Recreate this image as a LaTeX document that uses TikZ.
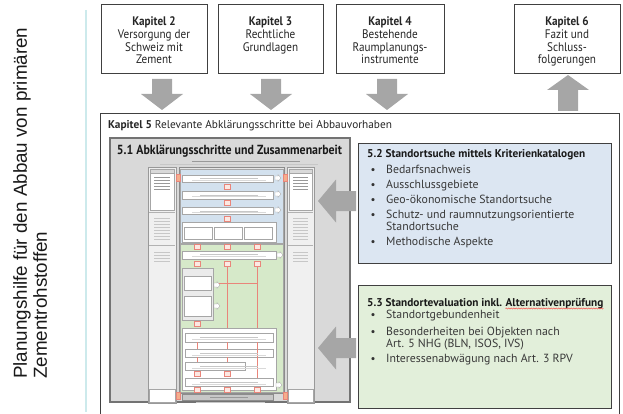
\documentclass[tikz,border=0pt]{standalone}
\usepackage{fontspec}
\setmainfont{PT Sans}
\newfontfamily\dinf[FakeStretch=0.9]{PT Sans}
\newfontfamily\arialf{Liberation Sans}
\usetikzlibrary{decorations.pathmorphing}
\definecolor{agray}{HTML}{A6A6A6}
\definecolor{bdr}{HTML}{404040}
\definecolor{bluef}{HTML}{DCE6F2}
\definecolor{greenf}{HTML}{E2EFDA}
\definecolor{tblue}{HTML}{D3E1EE}
\definecolor{tgreen}{HTML}{D6E9C9}
\definecolor{panel}{HTML}{D9D9D9}
\definecolor{tline}{HTML}{CDEAEC}
\definecolor{tred}{HTML}{E9857A}
\definecolor{tpink}{HTML}{FCE8E2}
\definecolor{torange}{HTML}{F5AE8C}
\tikzset{
  topbox/.style={draw=bdr, line width=0.8pt, fill=white, inner sep=0pt},
  toptext/.style={font=\dinf\fontsize{12.4}{12.7}\selectfont, align=center, anchor=north, inner sep=0pt, text=black!85},
  catbox/.style={draw=bdr, line width=0.8pt, inner sep=0pt},
  bul/.style={font=\fontsize{11.8}{12}\selectfont, anchor=base west, inner sep=0pt, text=black!78},
  bdot/.style={font=\fontsize{11}{12}\selectfont, anchor=base, inner sep=0pt, text=black!80},
  ttl/.style={font=\bfseries\fontsize{11.3}{12}\selectfont, anchor=base west, inner sep=0pt, text=black!90},
  tbox/.style={draw=black!35, line width=0.3pt, fill=white},
  tcol/.style={draw=black!40, line width=0.4pt, fill=black!6},
  redbox/.style={draw=tred, line width=0.3pt, fill=tpink},
  redl/.style={draw=tred, line width=0.35pt},
  txl/.style={draw=black!40, line width=0.45pt},
  fxl/.style={draw=black!22, line width=0.3pt},
}
\newcommand\blkdown[3]{\fill[agray] (#1-10,#2) -- (#1+10,#2) -- (#1+10,#2+15) -- (#1+21,#2+15) -- (#1,#3) -- (#1-21,#2+15) -- (#1-10,#2+15) -- cycle;}
\newcommand\blkup[3]{\fill[agray] (#1-10,#2) -- (#1+10,#2) -- (#1+10,#3+15) -- (#1+21,#3+15) -- (#1,#3) -- (#1-21,#3+15) -- (#1-10,#3+15) -- cycle;}
\newcommand\blkleft[3]{\fill[agray] (#1,#3) -- (#1+18,#3-21.5) -- (#1+18,#3-10) -- (#2,#3-10) -- (#2,#3+10) -- (#1+18,#3+10) -- (#1+18,#3+21.5) -- cycle;}
\newcommand\tinyarr[2]{\draw[black!35, line width=0.3pt, fill=white] (#1,#2-2) -- (#1+3,#2-2) -- (#1+3,#2-3.5) -- (#1+6,#2) -- (#1+3,#2+3.5) -- (#1+3,#2+2) -- (#1,#2+2) -- cycle;}
\begin{document}
\begin{tikzpicture}[x=1pt,y=-1pt]
\useasboundingbox (0,0) rectangle (623,414);
% left title
\node[rotate=90, anchor=north west, inner sep=0pt, align=left, text=black!90,
  font=\arialf\fontsize{18.8}{20}\selectfont] (title) at (13,379)
  {Planungshilfe für den Abbau von primären\\Zementrohstoffen};
\draw[tline, line width=1.6pt] (86,10) -- (86,412);
% top boxes
\node[topbox, minimum width=106pt, minimum height=69pt] (k2) at (154,38.5) {};
\node[topbox, minimum width=105pt, minimum height=69pt] (k3) at (270.5,38.5) {};
\node[topbox, minimum width=108pt, minimum height=69pt] (k4) at (390,38.5) {};
\node[topbox, minimum width=106pt, minimum height=69pt] (k6) at (567,38.5) {};
\node[toptext] (k2t) at ([yshift=-13pt]k2.north) {\textbf{Kapitel 2}\\Versorgung der\\Schweiz mit\\Zement};
\node[toptext] (k3t) at ([yshift=-13pt]k3.north) {\textbf{Kapitel 3}\\Rechtliche\\Grundlagen};
\node[toptext] (k4t) at ([yshift=-13pt]k4.north) {\textbf{Kapitel 4}\\Bestehende\\Raumplanungs-\\instrumente};
\node[toptext] (k6t) at ([yshift=-13pt]k6.north) {\textbf{Kapitel 6}\\Fazit und\\Schluss-\\folgerungen};
% Kapitel 5 frame
\draw[bdr, line width=0.8pt] (100,418) -- (100,113) -- (619,113) -- (619,418);
\node[font=\fontsize{11.3}{12}\selectfont, anchor=base west, inner sep=0pt, text=black!85] (k5t) at (108,129) {\textbf{Kapitel 5} Relevante Abklärungsschritte bei Abbauvorhaben};
% arrows top
\blkdown{162}{79}{110}
\blkdown{271}{79}{110}
\blkdown{387}{79}{110}
\blkup{568}{111}{75}
% 5.1 panel
\node[draw=black!55, line width=1.2pt, fill=panel, minimum width=240pt, minimum height=264pt, inner sep=0pt] (p51) at (230,270) {};
\node[font=\dinf\bfseries\fontsize{13.2}{14}\selectfont, anchor=base, inner sep=0pt, text=black!90] (p51t) at (229.5,155) {5.1 Abklärungsschritte und Zusammenarbeit};
% thumbnail
\draw[txl] (192,161) -- (300,161);
\draw[fxl] (160,164.5) -- (318,164.5);
\draw[tcol] (148,167) rectangle (176,403);
\draw[tcol] (287,167) rectangle (314,403);
\draw[black!45, line width=0.4pt, fill=black!10] (179,167) rectangle (284,393);
\draw[tbox] (150,169) rectangle (174,210);
\draw[tbox] (289,169) rectangle (312,210);
\draw[black!35, line width=0.3pt, fill=black!15] (150,169) rectangle (174,173) (289,169) rectangle (312,173);
\foreach \y in {177,180,183,186,189} {\draw[txl,line width=0.35pt] (154,\y) -- (170,\y); \draw[txl,line width=0.35pt] (293,\y) -- (308,\y);}
\foreach \y in {218,221,224,227,230,233,236,239} {\draw[fxl] (154,\y) -- (170,\y); \draw[fxl] (293,\y) -- (308,\y);}
\foreach \y in {252,255,258,261} {\draw[fxl] (154,\y) -- (170,\y); \draw[fxl] (293,\y) -- (308,\y);}
\draw[black!30, line width=0.3pt] (149,212) -- (175,212) (149,245) -- (175,245) (288,212) -- (313,212) (288,245) -- (313,245);
\draw[draw=black!35, line width=0.3pt, fill=tblue] (180,169) rectangle (283,243);
\draw[draw=black!35, line width=0.3pt, fill=tgreen] (180,244) rectangle (283,392);
\draw[tbox] (182,175) rectangle (273,182);
\draw[tbox] (182,191) rectangle (273,199);
\draw[tbox] (182,207) rectangle (273,214);
\draw[tbox] (182,222) rectangle (276,242);
\draw[tbox] (184,227) rectangle (212,239);
\draw[tbox] (214,227) rectangle (242,239);
\draw[tbox] (244,227) rectangle (272,239);
\foreach \y in {178,194,210} \tinyarr{275}{\y}
\foreach \y in {184,200,216} \draw[redbox] (224,\y) rectangle (230,\y+5);
\foreach \x in {197,227,257} \draw[redbox] (\x-3,244) rectangle (\x+3,249);
\draw[tbox] (182,251) rectangle (276,259);
\tinyarr{277}{255}
\foreach \x in {197,227,257} \draw[redbox] (\x-3,261) rectangle (\x+3,266);
\draw[redl] (227,266) -- (227,328) (257,266) -- (257,328) (213,283) -- (257,283);
\draw[draw=black!35, line width=0.3pt, fill=black!8] (182,268) rectangle (213,320);
\draw[tbox] (184,276) rectangle (211,290);
\draw[tbox] (184,296) rectangle (211,316);
\tinyarr{214}{285}
\tinyarr{214}{306}
\draw[redbox] (194,321) rectangle (200,326);
\draw[tbox] (182,328) rectangle (276,390);
\draw[tbox] (185,333) rectangle (273,342);
\draw[tbox] (185,349) rectangle (273,357);
\draw[tbox] (185,362) rectangle (245,370);
\draw[tbox] (185,378) rectangle (273,386);
\draw[redl] (197,342) -- (197,349) (227,342) -- (227,349) (257,342) -- (257,378) (197,357) -- (197,362) (227,357) -- (227,362);
\foreach \x in {197,227} \draw[redbox] (\x-3,371) rectangle (\x+3,376);
\tinyarr{276}{385}
\foreach \x in {197,227,257} \draw[redbox] (\x-3,387) rectangle (\x+3,392);
\draw[draw=black!45, line width=0.4pt, fill=black!22] (182,394) rectangle (273,400);
\draw[tbox] (149,389) rectangle (175,402);
\draw[tbox] (288,389) rectangle (313,402);
\foreach \p in {(178,178),(285,178),(178,396),(285,396)} \draw[draw=tred, line width=0.3pt, fill=torange] \p ++(-2,-3.5) rectangle ++(4,7);
\foreach \y in {178,195,211,254,337,353,366,382} \draw[fxl] (200,\y) -- (258,\y);
\foreach \y in {180,196.5,212.5,256,339,355,368,384} \draw[black!15, line width=0.3pt] (192,\y) -- (266,\y);
\draw[txl] (210,397) -- (248,397);
\draw[fxl] (196,402.5) -- (265,402.5);
% left block arrows
\blkleft{318}{356}{201}
\blkleft{318}{356}{348}
% 5.2 box
\node[catbox, fill=bluef, minimum width=253pt, minimum height=120pt] (b52) at (484.5,203) {};
\node[ttl] (b52t) at (367,158) {5.2 Standortsuche mittels Kriterienkatalogen};
\foreach \y in {173,188,203,218,245} \node[bdot] at (373,\y) {\textbullet};
\node[bul] (b52a) at (386,173) {Bedarfsnachweis};
\node[bul] (b52b) at (386,188) {Ausschlussgebiete};
\node[bul] (b52c) at (386,203) {Geo-ökonomische Standortsuche};
\node[bul] (b52d) at (386,218) {Schutz- und raumnutzungsorientierte};
\node[bul] (b52e) at (386,230) {Standortsuche};
\node[bul] (b52f) at (386,245) {Methodische Aspekte};
% 5.3 box
\node[catbox, fill=greenf, minimum width=253pt, minimum height=123pt] (b53) at (484.5,346.5) {};
\node[ttl] (b53t) at (367,306) {5.3 Standortevaluation inkl.};
\node[ttl] (b53u) at ([xshift=3pt]b53t.base east) {Alternativenprüfung};
\draw[red!80, line width=0.4pt, decorate, decoration={snake, amplitude=0.6pt, segment length=2.5pt}] ([yshift=-2.5pt]b53u.base west) -- ([yshift=-2.5pt]b53u.base east);
\foreach \y in {318,335,362} \node[bdot] at (373,\y) {\textbullet};
\node[bul] (b53a) at (386,318) {Standortgebundenheit};
\node[bul] (b53b) at (386,335) {Besonderheiten bei Objekten nach};
\node[bul] (b53c) at (386,347) {Art. 5 NHG (BLN, ISOS, IVS)};
\node[bul] (b53d) at (386,362) {Interessenabwägung nach Art. 3 RPV};
\end{tikzpicture}
\end{document}
